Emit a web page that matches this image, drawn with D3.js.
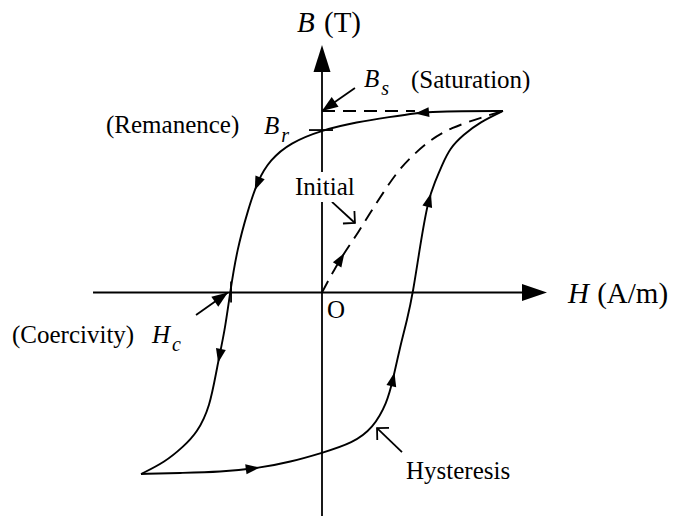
<!DOCTYPE html>
<html>
<head>
<meta charset="utf-8">
<script src="https://cdn.jsdelivr.net/npm/d3@7"></script>
<style>
  html, body { margin: 0; padding: 0; background: #fff; }
  svg { display: block; }
  text { font-family: "Liberation Serif", "Times New Roman", serif; fill: #000; }
</style>
</head>
<body>
<svg id="chart" width="674" height="516"></svg>
<script>
// B–H hysteresis loop of a ferromagnetic material (normalised units: saturation tip = ±1)

// Descending branch: positive saturation -> remanence -> coercivity -> negative saturation
const descendingH = [1.000, 0.762, 0.597, 0.525, 0.376, 0.193, 0.000, -0.177, -0.287, -0.354, -0.409, -0.470, -0.508, -0.536, -0.580, -0.619, -0.691, -0.768, -0.867, -1.000];
const descendingB = [1.000, 1.000, 0.994, 0.989, 0.967, 0.939, 0.895, 0.824, 0.730, 0.620, 0.455, 0.234, 0.000, -0.207, -0.410, -0.631, -0.774, -0.851, -0.934, -1.000];

// Ascending branch: negative saturation -> back up to positive saturation
const ascendingH = [-1.000, -0.785, -0.564, -0.343, -0.177, 0.000, 0.171, 0.282, 0.359, 0.392, 0.431, 0.470, 0.503, 0.541, 0.586, 0.624, 0.663, 0.707, 0.779, 0.873, 1.000];
const ascendingB = [-1.000, -0.994, -0.989, -0.967, -0.934, -0.884, -0.829, -0.747, -0.609, -0.482, -0.300, -0.152, 0.000, 0.251, 0.510, 0.609, 0.702, 0.796, 0.868, 0.939, 1.000];

// Initial magnetisation curve from the demagnetised origin
const initialH = [0.000, 0.066, 0.133, 0.199, 0.265, 0.337, 0.414, 0.503, 0.597, 0.707, 0.890, 1.000];
const initialB = [0.000, 0.124, 0.234, 0.328, 0.438, 0.548, 0.664, 0.758, 0.840, 0.906, 0.967, 1.000];

// Characteristic values
const saturationB = 1.0;
const remanenceB = 0.895;
const coercivityH = -0.508;

// Direction arrows placed along each curve (H, B near the arrow tip)
const descendingArrows = [[0.514, 0.997], [-0.376, 0.565], [-0.569, -0.388]];
const ascendingArrows = [[-0.343, -0.972], [0.392, -0.438], [0.597, 0.548]];
const initialArrows = [[0.116, 0.223]];

// Axis extents
const hAxisRange = [-1.265, 1.243];
const bAxisRange = [-1.235, 1.364];

const svg = d3.select("#chart");
const x = d3.scaleLinear().domain([-1, 1]).range([141, 503]);
const y = d3.scaleLinear().domain([-1, 1]).range([474, 111]);

const line = d3.line().x(d => x(d[0])).y(d => y(d[1])).curve(d3.curveBasis);
const zip = (a, b) => a.map((v, i) => [v, b[i]]);

const ink = "#000";

// ---- axes ----
const axes = svg.append("g");
axes.append("line")
  .attr("x1", x(hAxisRange[0])).attr("x2", x(hAxisRange[1]) - 20)
  .attr("y1", y(0)).attr("y2", y(0))
  .attr("stroke", ink).attr("stroke-width", 1.8);
axes.append("line")
  .attr("x1", x(0)).attr("x2", x(0))
  .attr("y1", y(bAxisRange[0])).attr("y2", y(bAxisRange[1]) + 20)
  .attr("stroke", ink).attr("stroke-width", 1.8);

// filled arrowhead with its tip at (tx, ty), pointing along (dx, dy)
function solidHead(g, tx, ty, dx, dy, len, hw) {
  const n = Math.hypot(dx, dy); dx /= n; dy /= n;
  const bx = tx - dx * len, by = ty - dy * len;
  g.append("path")
    .attr("d", `M${tx},${ty}L${bx - dy * hw},${by + dx * hw}L${bx + dy * hw},${by - dx * hw}Z`)
    .attr("fill", ink).attr("stroke", "none");
}
solidHead(axes, x(hAxisRange[1]), y(0), 1, 0, 25, 8.5);
solidHead(axes, x(0), y(bAxisRange[1]), 0, -1, 27, 8.5);

// ---- saturation dashed level ----
svg.append("line")
  .attr("x1", x(0)).attr("x2", x(0.514))
  .attr("y1", y(saturationB)).attr("y2", y(saturationB))
  .attr("stroke", ink).attr("stroke-width", 1.8)
  .attr("stroke-dasharray", "13,8");

// ---- curves ----
function drawCurve(points, dashed, arrows) {
  const p = svg.append("path")
    .attr("d", line(points))
    .attr("fill", "none").attr("stroke", ink).attr("stroke-width", 1.9)
    .attr("stroke-dasharray", dashed ? "13,8" : null);
  const node = p.node();
  const total = node.getTotalLength();
  arrows.forEach(a => {
    const tx = x(a[0]), ty = y(a[1]);
    let best = 0, bestD = Infinity;
    for (let l = 0; l <= total; l += 0.5) {
      const pt = node.getPointAtLength(l);
      const d = (pt.x - tx) ** 2 + (pt.y - ty) ** 2;
      if (d < bestD) { bestD = d; best = l; }
    }
    const tip = node.getPointAtLength(best);
    const back = node.getPointAtLength(Math.max(0, best - 10));
    solidHead(svg, tip.x, tip.y, tip.x - back.x, tip.y - back.y, 14, 5);
  });
}
drawCurve(zip(initialH, initialB), true, initialArrows);
drawCurve(zip(descendingH, descendingB), false, descendingArrows);
drawCurve(zip(ascendingH, ascendingB), false, ascendingArrows);

// ---- tick marks at remanence and coercivity ----
svg.append("line")
  .attr("x1", x(0) - 13).attr("x2", x(0) + 11)
  .attr("y1", y(remanenceB)).attr("y2", y(remanenceB))
  .attr("stroke", ink).attr("stroke-width", 1.8);
svg.append("line")
  .attr("x1", x(coercivityH) + 1).attr("x2", x(coercivityH) + 1)
  .attr("y1", y(0) - 11).attr("y2", y(0) + 10)
  .attr("stroke", ink).attr("stroke-width", 1.8);

// ---- pointer arrows ----
function pointer(from, to, open) {
  const x1 = x(from[0]), y1 = y(from[1]), x2 = x(to[0]), y2 = y(to[1]);
  svg.append("line").attr("x1", x1).attr("y1", y1).attr("x2", x2).attr("y2", y2)
    .attr("stroke", ink).attr("stroke-width", 1.8);
  if (open) {
    let dx = x2 - x1, dy = y2 - y1; const n = Math.hypot(dx, dy); dx /= n; dy /= n;
    const L = 12, c = Math.cos(Math.PI / 4), s = Math.sin(Math.PI / 4);
    const a1 = [x2 - L * (dx * c - dy * s), y2 - L * (dx * s + dy * c)];
    const a2 = [x2 - L * (dx * c + dy * s), y2 - L * (-dx * s + dy * c)];
    svg.append("path")
      .attr("d", `M${a1[0]},${a1[1]}L${x2},${y2}L${a2[0]},${a2[1]}`)
      .attr("fill", "none").attr("stroke", ink).attr("stroke-width", 1.8);
  } else {
    solidHead(svg, x2, y2, x2 - x1, y2 - y1, 16, 6);
  }
}
pointer([0.182, 1.127], [0.0, 1.0], false);      // Bs
pointer([-0.696, -0.124], [-0.520, 0.0], false); // Hc
pointer([0.055, 0.499], [0.182, 0.383], true);   // Initial
pointer([0.442, -0.879], [0.304, -0.747], true); // Hysteresis

// ---- labels ----
const FS = 25, SUB = 20, AXIS_FS = 29;
function label(tx, ty, parts, size) {
  const t = svg.append("text").attr("x", tx).attr("y", ty).attr("font-size", size || FS);
  parts.forEach(p => {
    const s = t.append("tspan").text(p.t);
    if (p.i) s.attr("font-style", "italic");
    if (p.sub) s.attr("font-size", SUB).attr("dy", 8);
    if (p.dx) s.attr("dx", p.dx);
  });
  return t;
}

// axis titles
label(297, 32, [{ t: "B", i: true }, { t: " (T)", dx: 2 }], AXIS_FS);
label(568, 303, [{ t: "H", i: true }, { t: " (A/m)", dx: 1 }], AXIS_FS);
label(327, 318, [{ t: "O" }]);

// saturation
label(364, 87, [{ t: "B", i: true }, { t: "s", i: true, sub: true, dx: 2 }]);
label(411, 88, [{ t: "(Saturation)" }]);

// remanence
label(106, 133, [{ t: "(Remanence)" }]);
label(264, 134, [{ t: "B", i: true }, { t: "r", i: true, sub: true, dx: 2 }]);

// coercivity
label(12, 343, [{ t: "(Coercivity)" }]);
label(152, 343, [{ t: "H", i: true }, { t: "c", i: true, sub: true, dx: 2 }]);

// initial curve label with a knockout behind it
svg.append("rect").attr("x", 292).attr("y", 172).attr("width", 64).attr("height", 30).attr("fill", "#fff");
label(295, 195, [{ t: "Initial" }]);

// hysteresis label
label(406, 479, [{ t: "Hysteresis" }]);
</script>
</body>
</html>
